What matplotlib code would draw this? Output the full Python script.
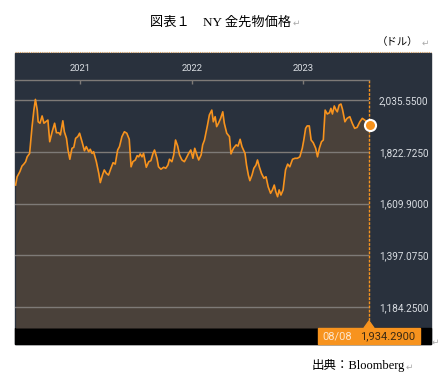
import numpy as np
import pandas as pd
import matplotlib
matplotlib.use("Agg")
import matplotlib.pyplot as plt
import matplotlib.dates as mdates
from matplotlib.patches import Rectangle, Polygon
from matplotlib.lines import Line2D

# NY gold futures (USD / oz)
dates = [
    "2020-06-02", "2020-06-07", "2020-06-16", "2020-06-23", "2020-06-29", "2020-07-05",
    "2020-07-10", "2020-07-18", "2020-07-26", "2020-08-01", "2020-08-06", "2020-08-12",
    "2020-08-15", "2020-08-21", "2020-08-28", "2020-09-03", "2020-09-09", "2020-09-16",
    "2020-09-22", "2020-09-30", "2020-10-08", "2020-10-14", "2020-10-22", "2020-10-27",
    "2020-11-04", "2020-11-09", "2020-11-16", "2020-11-21", "2020-11-27", "2020-12-04",
    "2020-12-10", "2020-12-16", "2020-12-23", "2020-12-29", "2021-01-06", "2021-01-14",
    "2021-01-20", "2021-01-28", "2021-02-02", "2021-02-08", "2021-02-13", "2021-02-22",
    "2021-03-02", "2021-03-07", "2021-03-14", "2021-03-20", "2021-03-27", "2021-04-03",
    "2021-04-11", "2021-04-18", "2021-04-25", "2021-05-03", "2021-05-09", "2021-05-17",
    "2021-05-25", "2021-06-02", "2021-06-10", "2021-06-16", "2021-06-22", "2021-06-30",
    "2021-07-06", "2021-07-11", "2021-07-16", "2021-07-22", "2021-07-27", "2021-08-05",
    "2021-08-13", "2021-08-20", "2021-08-27", "2021-09-01", "2021-09-09", "2021-09-14",
    "2021-09-22", "2021-10-01", "2021-10-08", "2021-10-15", "2021-10-20", "2021-10-28",
    "2021-11-03", "2021-11-09", "2021-11-16", "2021-11-22", "2021-11-30", "2021-12-08",
    "2021-12-14", "2021-12-22", "2021-12-29", "2022-01-05", "2022-01-11", "2022-01-18",
    "2022-01-24", "2022-02-01", "2022-02-06", "2022-02-12", "2022-02-17", "2022-02-22",
    "2022-02-28", "2022-03-08", "2022-03-13", "2022-03-19", "2022-03-24", "2022-03-30",
    "2022-04-06", "2022-04-13", "2022-04-18", "2022-04-26", "2022-05-05", "2022-05-10",
    "2022-05-18", "2022-05-27", "2022-06-02", "2022-06-09", "2022-06-15", "2022-06-25",
    "2022-06-30", "2022-07-06", "2022-07-11", "2022-07-18", "2022-07-24", "2022-07-31",
    "2022-08-05", "2022-08-11", "2022-08-18", "2022-08-26", "2022-09-02", "2022-09-09",
    "2022-09-17", "2022-09-23", "2022-09-29", "2022-10-04", "2022-10-10", "2022-10-15",
    "2022-10-21", "2022-10-28", "2022-11-05", "2022-11-12", "2022-11-19", "2022-11-28",
    "2022-12-06", "2022-12-14", "2022-12-22", "2022-12-30", "2023-01-04", "2023-01-10",
    "2023-01-15", "2023-01-22", "2023-01-28", "2023-02-04", "2023-02-12", "2023-02-18",
    "2023-02-24", "2023-03-03", "2023-03-09", "2023-03-15", "2023-03-22", "2023-03-29",
    "2023-04-03", "2023-04-08", "2023-04-14", "2023-04-20", "2023-04-24", "2023-04-30",
    "2023-05-06", "2023-05-11", "2023-05-19", "2023-05-26", "2023-06-04", "2023-06-12",
    "2023-06-20", "2023-06-28", "2023-07-07", "2023-07-15", "2023-07-23", "2023-08-08",
]
prices = [
    1686, 1720, 1741, 1764, 1772, 1782,
    1802, 1816, 1926, 1994, 2038, 1994,
    1946, 1940, 1970, 1940, 1946, 1953,
    1864, 1905, 1940, 1901, 1901, 1892,
    1950, 1905, 1878, 1830, 1792, 1837,
    1841, 1878, 1885, 1899, 1864, 1827,
    1844, 1823, 1833, 1816, 1823, 1782,
    1734, 1696, 1727, 1748, 1734, 1727,
    1755, 1778, 1772, 1830, 1844, 1885,
    1905, 1899, 1874, 1761, 1782, 1789,
    1807, 1802, 1814, 1802, 1816, 1759,
    1782, 1786, 1816, 1830, 1796, 1761,
    1751, 1759, 1755, 1768, 1792, 1782,
    1810, 1871, 1846, 1810, 1789, 1782,
    1796, 1816, 1830, 1796, 1837, 1810,
    1789, 1810, 1851, 1871, 1901, 1933,
    1974, 1994, 1946, 1967, 1926, 1940,
    1960, 1987, 1940, 1899, 1885, 1814,
    1837, 1851, 1846, 1874, 1844, 1816,
    1768, 1727, 1704, 1727, 1755, 1768,
    1789, 1761, 1734, 1714, 1720, 1679,
    1652, 1666, 1686, 1659, 1638, 1666,
    1645, 1666, 1748, 1772, 1761, 1792,
    1796, 1796, 1802, 1837, 1871, 1919,
    1929, 1929, 1871, 1860, 1837, 1802,
    1837, 1864, 1871, 1994, 1978, 1983,
    2001, 1978, 2011, 1994, 1987, 2015,
    2019, 1997, 1946, 1960, 1967, 1940,
    1919, 1923, 1946, 1960, 1953, 1934.29,
]
y_ticks = [1184.25, 1397.075, 1609.9, 1822.725, 2035.55]
year_ticks = ["2021-01-01", "2022-01-01", "2023-01-01"]
last_label = "08/08"

dates = pd.to_datetime(dates)
W, H = 444, 384

def fx(px):
    return px / W

def fy(py):
    return 1 - py / H

panel = "#29313d"
fill_col = "#4a413a"
orange = "#f7931e"
grid_col = "#7e7a77"
txt_col = "#d9dde2"
jp_serif = ["Liberation Serif", "Noto Sans CJK JP"]

fig = plt.figure(figsize=(W / 100, H / 100), dpi=100)

# dark panel and the black status bar (behind the axes)
fig.patches.append(Rectangle((fx(15), fy(344)), fx(431) - fx(15), fy(53) - fy(344),
                             transform=fig.transFigure, color=panel, zorder=-2))
fig.patches.append(Rectangle((fx(15), fy(344)), fx(431) - fx(15), fy(328) - fy(344),
                             transform=fig.transFigure, color="black", zorder=-1))
fig.lines.append(Line2D([fx(15), fx(431)], [fy(52), fy(52)], transform=fig.transFigure,
                        color="#d9a56a", lw=0.8, ls=(0, (1, 1))))

ax = fig.add_axes([fx(15), fy(328), fx(369) - fx(15), fy(80) - fy(328)])
ax.set_facecolor(panel)
ymin, ymax = 1098.5, 2117.7
ax.fill_between(dates, prices, ymin, color=fill_col, lw=0, zorder=1)
for v in y_ticks:
    ax.axhline(v, color=grid_col, lw=1, zorder=2)
ax.plot(dates, prices, color=orange, lw=1.2, zorder=3)
ax.plot(dates[-1], prices[-1], "o", ms=8, mfc=orange, mec="white", mew=1.5, zorder=5,
        clip_on=False)
ax.set_xlim(pd.Timestamp("2020-05-31"), pd.Timestamp("2023-08-06"))
ax.set_ylim(ymin, ymax)

for s in ax.spines.values():
    s.set_visible(False)
ax.spines["top"].set_visible(True)
ax.spines["top"].set_color(grid_col)
ax.spines["top"].set_linewidth(1)
ax.spines["right"].set_visible(True)
ax.spines["right"].set_color(orange)
ax.spines["right"].set_linestyle((0, (1, 2)))
ax.spines["right"].set_linewidth(1)

ax.yaxis.tick_right()
ax.set_yticks(y_ticks)
ax.set_yticklabels(["{:,.4f}".format(v) for v in y_ticks])
ax.tick_params(axis="y", length=0, pad=7, labelsize=7.2, labelcolor=txt_col)
for t in ax.get_yticklabels():
    t.set_fontfamily("Roboto")

ax.xaxis.tick_top()
ax.set_xticks(pd.to_datetime(year_ticks))
ax.xaxis.set_major_formatter(mdates.DateFormatter("%Y"))
ax.tick_params(axis="x", direction="in", length=3, width=1, color=grid_col, pad=5,
               labelsize=6.8, labelcolor=txt_col)
for t in ax.get_xticklabels():
    t.set_fontfamily("Roboto")

# last value tag in the bottom bar
fig.patches.append(Rectangle((fx(318), fy(344)), fx(420) - fx(318), fy(328) - fy(344),
                             transform=fig.transFigure, color=orange, zorder=2))
fig.patches.append(Polygon([[fx(364), fy(328)], [fx(374), fy(328)], [fx(369), fy(321)]],
                           closed=True, transform=fig.transFigure, color=orange, zorder=2))
fig.text(fx(337), fy(336.5), last_label, ha="center", va="center", fontsize=8,
         family="Roboto", color="#fde6cc", zorder=3)
fig.text(fx(388), fy(336.5), "{:,.4f}".format(prices[-1]), ha="center", va="center",
         fontsize=8, family="Roboto", color="#3b2a14", zorder=3)

# titles and notes
fig.text(fx(221), fy(22), "図表１　NY 金先物価格", ha="center", va="center",
         fontsize=9.5, family=jp_serif, color="black")
fig.text(fx(293), fy(23), "↵", ha="left", va="center", fontsize=6.5, color="#aaaaaa")
fig.text(fx(418), fy(42), "（ドル）", ha="right", va="center", fontsize=7.5,
         family=jp_serif, color="black")
fig.text(fx(422), fy(43), "↵", ha="left", va="center", fontsize=6.5, color="#aaaaaa")
fig.text(fx(432), fy(342), "↵", ha="left", va="center", fontsize=6.5, color="#aaaaaa")
fig.text(fx(405), fy(366), "出典：Bloomberg", ha="right", va="center", fontsize=9,
         family=jp_serif, color="black")
fig.text(fx(406), fy(367), "↵", ha="left", va="center", fontsize=6.5, color="#aaaaaa")

fig.savefig("out.png", dpi=100)
